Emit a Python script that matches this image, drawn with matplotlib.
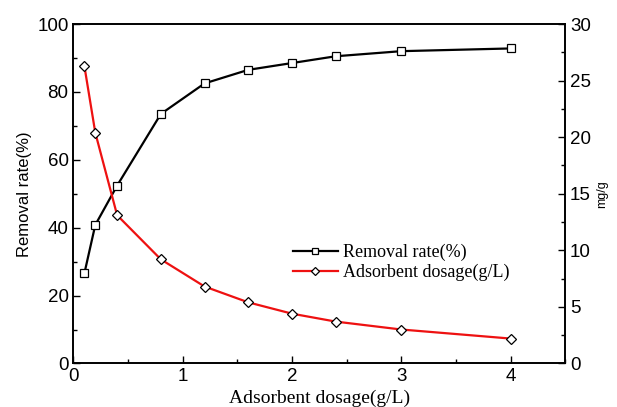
import matplotlib
matplotlib.use("Agg")
import matplotlib.pyplot as plt
from matplotlib.ticker import MultipleLocator

# dosage (g/L)
dosage = [0.1, 0.2, 0.4, 0.8, 1.2, 1.6, 2.0, 2.4, 3.0, 4.0]
# removal rate (%)
removal = [26.5, 40.8, 52.4, 73.5, 82.5, 86.5, 88.5, 90.5, 92.0, 92.8]
# adsorption capacity (mg/g)
capacity = [26.3, 20.4, 13.1, 9.2, 6.8, 5.4, 4.4, 3.7, 3.0, 2.2]

plt.rcParams['font.family'] = ['Liberation Sans', 'DejaVu Sans']
serif = 'Liberation Serif'

fig = plt.figure(figsize=(6.17, 4.07), dpi=100)
ax = fig.add_axes([0.119, 0.107, 0.797, 0.834])
ax2 = ax.twinx()

l1, = ax.plot(dosage, removal, color='black', lw=1.6, marker='s', ms=5.5,
              mfc='white', mec='black', mew=0.9, label='Removal rate(%)')
l2, = ax2.plot(dosage, capacity, color='#ee1111', lw=1.6, marker='D', ms=5,
               mfc='white', mec='black', mew=0.9, label='Adsorbent dosage(g/L)')

ax.set_xlim(0, 4.5)
ax.set_ylim(0, 100)
ax2.set_ylim(0, 30)

ax.xaxis.set_major_locator(MultipleLocator(1))
ax.xaxis.set_minor_locator(MultipleLocator(0.5))
ax.yaxis.set_major_locator(MultipleLocator(20))
ax.yaxis.set_minor_locator(MultipleLocator(10))
ax2.yaxis.set_major_locator(MultipleLocator(5))
ax2.yaxis.set_minor_locator(MultipleLocator(2.5))

ax.tick_params(axis='both', which='both', direction='in', labelsize=13.5, top=False)
ax.tick_params(which='major', length=5, width=1)
ax.tick_params(which='minor', length=3, width=1)
ax2.tick_params(axis='y', which='both', direction='in', labelsize=13.5)
ax2.tick_params(which='major', length=5, width=1)
ax2.tick_params(which='minor', length=3, width=1)

for a in (ax, ax2):
    for s in a.spines.values():
        s.set_linewidth(1.2)

ax.set_xlabel('Adsorbent dosage(g/L)', fontsize=14, family=serif, labelpad=3)
ax.set_ylabel('Removal rate(%)', fontsize=12, labelpad=4)
ax2.set_ylabel('mg/g', fontsize=9, labelpad=4)

ax.legend(handles=[l1, l2], loc='upper left', bbox_to_anchor=(0.42, 0.39),
          frameon=False, prop={'family': serif, 'size': 13}, markerscale=0.8,
          handlelength=2.5, handletextpad=0.3, labelspacing=0.15,
          borderpad=0.2)

fig.savefig('out.png', dpi=100)
